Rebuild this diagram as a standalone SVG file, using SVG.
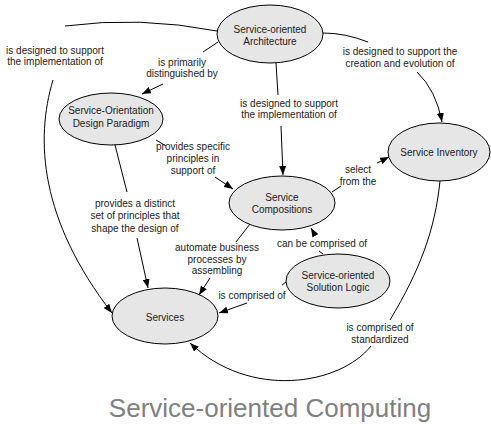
<svg xmlns="http://www.w3.org/2000/svg" width="491" height="424" viewBox="0 0 491 424">
<defs>
<marker id="arr" markerUnits="userSpaceOnUse" markerWidth="9" markerHeight="7" refX="9" refY="3.5" orient="auto">
<path d="M0,0 L9,3.5 L0,7 z" fill="#000"/>
</marker>
<style>
.n ellipse{fill:#e6e6e6;stroke:#000;stroke-width:1}
.n text,.lbl text{font-family:"Liberation Sans",Arial,sans-serif;font-size:10px;fill:#1a1a1a;text-anchor:middle}
.c path{fill:none;stroke:#000;stroke-width:1}
.c path.a{marker-end:url(#arr)}
.title{font-family:"Liberation Sans",Arial,sans-serif;font-size:26px;fill:#808080;text-anchor:middle}
</style>
</defs>
<rect width="491" height="424" fill="#fff"/>
<g id="connectors" class="c">
<path d="M217,31 Q140,16 65,26"/>
<path class="a" d="M53,80 C35,140 40,220 112,313"/>
<path d="M218,42 L203,52"/>
<path class="a" d="M163,84 L142,94"/>
<path d="M276,63 L278,95"/>
<path class="a" d="M281,126 L283,175"/>
<path d="M323,33 Q345,33 368,42"/>
<path class="a" d="M417,72 Q436,90 442,122"/>
<path d="M156,140 L166,146"/>
<path class="a" d="M215,177 L233,189"/>
<path d="M115,145 L127,192"/>
<path class="a" d="M137,238 L148,288"/>
<path d="M332,192 L341,186"/>
<path class="a" d="M377,163 L389,157"/>
<path d="M250,224 L236,242"/>
<path class="a" d="M210,278 L199,295"/>
<path d="M323,254 L319,251"/>
<path class="a" d="M315,235 L311,228"/>
<path d="M286,282 L282,285"/>
<path class="a" d="M247,303 L219,313"/>
<path d="M440,181 C435,230 420,270 390,320"/>
<path class="a" d="M371,346 C340,385 250,400 190,343"/>
</g>
<g id="labels" class="lbl">
<text x="55" y="53.5">is designed to support</text>
<text x="55" y="65">the implementation of</text>
<text x="182" y="65.5">is primarily</text>
<text x="182" y="77">distinguished by</text>
<text x="289" y="106.5">is designed to support</text>
<text x="289" y="118">the implementation of</text>
<text x="400" y="54.5">is designed to support the</text>
<text x="400" y="66.5">creation and evolution of</text>
<text x="193" y="149.5">provides specific</text>
<text x="193" y="161.5">principles in</text>
<text x="193" y="173.5">support of</text>
<text x="135" y="206.5">provides a distinct</text>
<text x="135" y="219">set of principles that</text>
<text x="135" y="231.5">shape the design of</text>
<text x="358" y="172.5">select</text>
<text x="358" y="184.5">from the</text>
<text x="217" y="251">automate business</text>
<text x="217" y="262.5">processes by</text>
<text x="217" y="274">assembling</text>
<text x="322" y="246.5">can be comprised of</text>
<text x="252" y="298.5">is comprised of</text>
<text x="380" y="330.5">is comprised of</text>
<text x="380" y="342.5">standardized</text>
</g>
<g id="soa" class="n">
<ellipse cx="270" cy="34" rx="53" ry="29"/>
<text x="270" y="32.5">Service-oriented</text>
<text x="270" y="45">Architecture</text>
</g>
<g id="sodp" class="n">
<ellipse cx="111" cy="119" rx="52" ry="26"/>
<text x="111" y="114">Service-Orientation</text>
<text x="111" y="127">Design Paradigm</text>
</g>
<g id="sc" class="n">
<ellipse cx="282" cy="203" rx="53" ry="27"/>
<text x="282" y="200.5">Service</text>
<text x="282" y="212.5">Compositions</text>
</g>
<g id="si" class="n">
<ellipse cx="439" cy="152" rx="51" ry="29"/>
<text x="439" y="155.5">Service Inventory</text>
</g>
<g id="sosl" class="n">
<ellipse cx="338" cy="281" rx="52" ry="27"/>
<text x="338" y="278.5">Service-oriented</text>
<text x="338" y="290.5">Solution Logic</text>
</g>
<g id="services" class="n">
<ellipse cx="165" cy="316" rx="53" ry="28"/>
<text x="165" y="320.5">Services</text>
</g>
<text class="title" x="270" y="417">Service-oriented Computing</text>
</svg>
